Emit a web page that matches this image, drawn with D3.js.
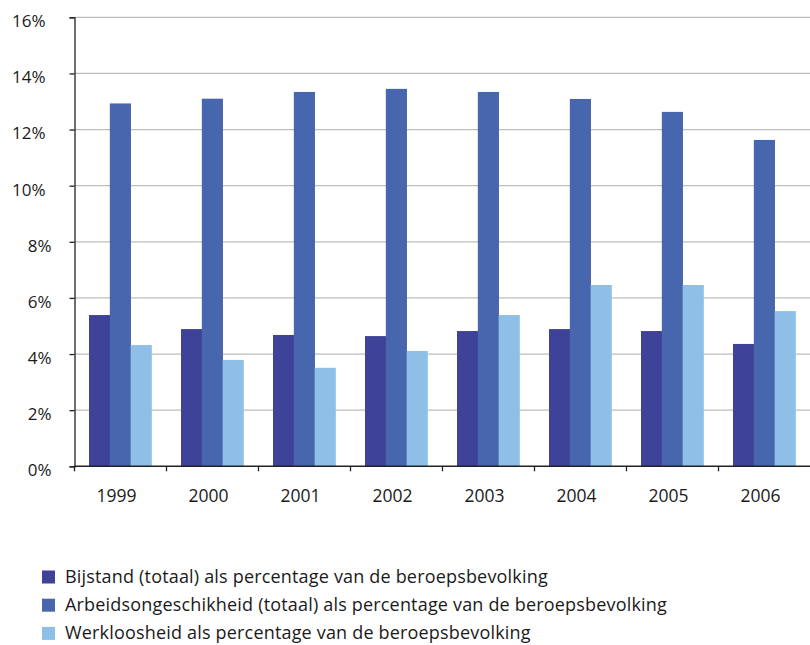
<!DOCTYPE html>
<html><head><meta charset="utf-8">
<script src="https://cdn.jsdelivr.net/npm/d3@7"></script>
<style>
body{margin:0;background:#fff;}
text{font-family:"Open Sans",Lato,sans-serif;fill:#1a1a1a;}
</style></head>
<body><svg id="c" width="810" height="645"></svg>
<script>
const years = ["1999","2000","2001","2002","2003","2004","2005","2006"];
const bijstand = [5.39, 4.89, 4.68, 4.64, 4.82, 4.89, 4.82, 4.36];
const arbeid = [12.93, 13.10, 13.34, 13.45, 13.34, 13.09, 12.63, 11.63];
const werkloos = [4.32, 3.79, 3.51, 4.11, 5.39, 6.46, 6.46, 5.53];
const seriesNames = [
  "Bijstand (totaal) als percentage van de beroepsbevolking",
  "Arbeidsongeschikheid (totaal) als percentage van de beroepsbevolking",
  "Werkloosheid als percentage van de beroepsbevolking"
];
const seriesColors = ["#3e4399", "#4866ae", "#8ebfe6"];
const yTicks = [0,2,4,6,8,10,12,14,16];

const seriesVals = [bijstand, arbeid, werkloos];
const svg = d3.select("#c");
const pLeft = 74.5, pRight = 810.5, pTop = 17.3, pBottom = 466.3;
const x0 = d3.scaleBand().domain(years).range([pLeft, pRight]).padding(0);
const x1 = d3.scaleBand().domain([0,1,2]).range([14.5, 77]).padding(0);
const y = d3.scaleLinear().domain([0,16]).range([pBottom, pTop]);

// gridlines
svg.append("g").selectAll("line").data(yTicks.filter(d=>d>0)).join("line")
  .attr("x1", pLeft).attr("x2", 810).attr("y1", d=>y(d)).attr("y2", d=>y(d))
  .attr("stroke", "#bcbcbc").attr("stroke-width", 1.3);

// bars
const g = svg.append("g");
years.forEach((yr, i) => {
  seriesVals.forEach((vals, s) => {
    g.append("rect")
      .attr("x", x0(yr) + x1(s))
      .attr("width", x1.bandwidth() + 0.3)
      .attr("y", y(vals[i]))
      .attr("height", y(0) - y(vals[i]))
      .attr("fill", seriesColors[s]);
  });
});

// y axis
const yAxis = d3.axisLeft(y).tickValues(yTicks).tickSize(5).tickPadding(18).tickFormat(d => d + "%");
const ya = svg.append("g").attr("transform", `translate(${pLeft},0)`).call(yAxis);
ya.select(".domain").attr("stroke", "#222").attr("stroke-width", 1.3);
ya.selectAll(".tick line").attr("stroke", "#222").attr("stroke-width", 1.3);
ya.selectAll(".tick text")
  .attr("font-size", 17).attr("fill", "#1a1a1a")
  .style("font-family", "'Open Sans', Lato, sans-serif")
  .attr("dy", "0.55em")
  .attr("x", d => d >= 10 ? -29 : -23);

// x axis line
svg.append("line").attr("x1", pLeft).attr("x2", 810).attr("y1", pBottom).attr("y2", pBottom)
  .attr("stroke", "#222").attr("stroke-width", 1.5);
// tick marks at band boundaries
svg.append("g").selectAll("line").data(years).join("line")
  .attr("x1", d=>x0(d)).attr("x2", d=>x0(d)).attr("y1", pBottom).attr("y2", pBottom + 5)
  .attr("stroke", "#222").attr("stroke-width", 1.3);
// x labels
svg.append("g").selectAll("text").data(years).join("text")
  .attr("x", d => x0(d) + x0.bandwidth()/2 - 4)
  .attr("y", 502)
  .attr("text-anchor", "middle")
  .attr("font-size", 17.5)
  .text(d => d);

// legend
const lg = svg.append("g");
seriesNames.forEach((name, i) => {
  const yy = 570.5 + i * 28.2;
  lg.append("rect").attr("x", 42).attr("y", yy).attr("width", 13).attr("height", 13).attr("fill", seriesColors[i]);
  lg.append("text").attr("x", 65).attr("y", yy + 12.5).attr("font-size", 18)
    .attr("letter-spacing", 0.18).text(name);
});
</script></body></html>
